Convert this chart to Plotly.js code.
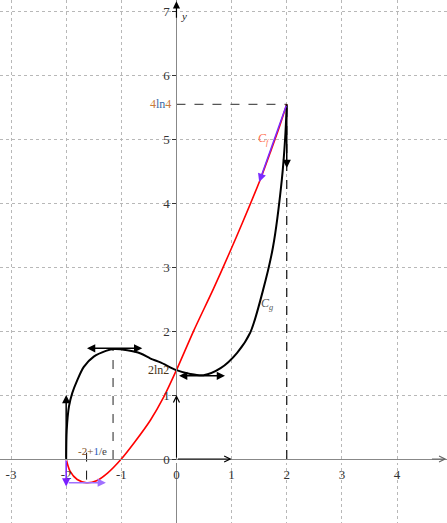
<!DOCTYPE html>
<html>
<head>
<meta charset="utf-8">
<script src="https://cdn.plot.ly/plotly-3.0.1.min.js"></script>
<style>html,body{margin:0;padding:0;background:#fff;}#chart{width:447px;height:523px;}</style>
</head>
<body>
<div id="chart"></div>
<script>
// ---- data ----
const xTicks = [-3, -2, -1, 0, 1, 2, 3, 4];
const yTicks = [-1, 0, 1, 2, 3, 4, 5, 6, 7];

// curve C_g (black)
const gX = [-2, -1.99, -1.95, -1.89, -1.8, -1.68, -1.5, -1.28, -1.13, -0.89, -0.65, -0.47, -0.29, 0, 0.25, 0.49, 0.8, 1.1, 1.34, 1.57, 1.75, 1.91, 1.97, 2];
const gY = [0, 0.45, 0.82, 1.03, 1.23, 1.44, 1.6, 1.69, 1.72, 1.70, 1.65, 1.57, 1.51, 1.39, 1.33, 1.31, 1.42, 1.66, 1.98, 2.64, 3.31, 4.36, 5.0, 5.545];

// curve C_f (red)
const fX = [-2, -1.93, -1.8, -1.63, -1.45, -1.25, -1.0, -0.77, -0.47, -0.23, 0, 0.31, 0.67, 0.95, 1.2, 1.52, 1.70, 1.85, 2];
const fY = [0, -0.19, -0.32, -0.37, -0.34, -0.22, 0, 0.25, 0.61, 0.97, 1.39, 2.0, 2.66, 3.2, 3.7, 4.37, 4.79, 5.15, 5.545];

// special points
const ptEnd = [2, 5.545];        // (2, 4ln4)
const ptMaxG = [-1.15, 1.72];     // max of C_g
const ptMinF = [-1.63, -0.37];    // min of C_f (-2+1/e)
const ptG0 = [0, 1.386];          // (0, 2ln2)

// tangent arrows [tailX, tailY, headX, headY, color, both]
const arrows = [
  [-2, 0, -2, 1, '#000', false],
  [-1.65, 1.73, -0.62, 1.73, '#000', true],
  [0.02, 1.30, 0.88, 1.30, '#000', true],
  [2, 5.545, 2, 4.55, '#000', false],
  [-2, 0, -2, -0.43, '#7a1fff', false],
  [-1.98, -0.37, -1.28, -0.37, '#a070ff', false],
  [2, 5.545, 1.5, 4.33, '#7a2bff', false]
];

const xRange = [-3.2, 4.906];
const yRange = [-1.0, 7.175];

const traces = [
  {x: [ptEnd[0], ptEnd[0]], y: [0, ptEnd[1]], mode: 'lines', line: {color: '#111', width: 1.2, dash: 'dash'}, hoverinfo: 'skip'},
  {x: [0, ptEnd[0]], y: [ptEnd[1], ptEnd[1]], mode: 'lines', line: {color: '#555', width: 1.3, dash: 'dash'}, hoverinfo: 'skip'},
  {x: [ptMaxG[0], ptMaxG[0]], y: [0, ptMaxG[1]], mode: 'lines', line: {color: '#222', width: 1, dash: 'dash'}, hoverinfo: 'skip'},
  {x: [ptMinF[0], ptMinF[0]], y: [0.1, ptMinF[1]], mode: 'lines', line: {color: '#111', width: 1, dash: 'dash'}, hoverinfo: 'skip'},
  {x: fX, y: fY, mode: 'lines', line: {color: '#ff0000', width: 1.6, shape: 'spline', smoothing: 0.8}, hoverinfo: 'skip'},
  {x: gX, y: gY, mode: 'lines', line: {color: '#000', width: 2, shape: 'spline', smoothing: 0.8}, hoverinfo: 'skip'}
];

const ann = [];
arrows.forEach(a => {
  ann.push({x: a[2], y: a[3], ax: a[0], ay: a[1], xref: 'x', yref: 'y', axref: 'x', ayref: 'y',
    text: '', showarrow: true, arrowhead: 2, arrowsize: 1.1, arrowwidth: 1.5, arrowcolor: a[4],
    arrowside: a[5] ? 'end+start' : 'end', startarrowhead: 2, startarrowsize: 1.1, standoff: 0, startstandoff: 0});
});
ann.push({x: 1, y: 0, ax: 0, ay: 0, xref: 'x', yref: 'y', axref: 'x', ayref: 'y', text: '', showarrow: true,
  arrowhead: 5, arrowsize: 1.2, arrowwidth: 1, arrowcolor: '#000'});
ann.push({x: 0, y: 1, ax: 0, ay: 0, xref: 'x', yref: 'y', axref: 'x', ayref: 'y', text: '', showarrow: true,
  arrowhead: 5, arrowsize: 1.2, arrowwidth: 1, arrowcolor: '#000'});
ann.push({x: 0, y: yRange[1] - 0.02, ax: 0, ay: yRange[1] - 0.3, xref: 'x', yref: 'y', axref: 'x', ayref: 'y', text: '', showarrow: true,
  arrowhead: 2, arrowsize: 1.2, arrowwidth: 1.2, arrowcolor: '#000'});
ann.push({x: xRange[1] - 0.01, y: 0, ax: xRange[1] - 0.3, ay: 0, xref: 'x', yref: 'y', axref: 'x', ayref: 'y', text: '', showarrow: true,
  arrowhead: 5, arrowsize: 1.2, arrowwidth: 1, arrowcolor: '#666'});

const SERIF = '"Liberation Serif", "Times New Roman", "DejaVu Serif", serif';
const lf = {family: SERIF, size: 12};
ann.push({x: 0, y: ptEnd[1], xref: 'x', yref: 'y', xanchor: 'right', yanchor: 'middle', xshift: -3, showarrow: false,
  text: '<span style="color:#c87a3a">4</span><span style="color:#3a6aa8">ln</span><span style="color:#c87a3a">4</span>', font: lf});
ann.push({x: 0, y: ptG0[1], xref: 'x', yref: 'y', xanchor: 'right', yanchor: 'middle', xshift: -5, showarrow: false,
  text: '2ln2', font: Object.assign({}, lf, {color: '#4a3418'})});
ann.push({x: ptMinF[0] + 0.1, y: 0.13, xref: 'x', yref: 'y', xanchor: 'center', yanchor: 'middle', showarrow: false,
  text: '<span style="color:#7a4a20">-2+</span><span style="color:#2a5cc0">1</span><span style="color:#444">/e</span>', font: Object.assign({}, lf, {size: 11})});
ann.push({x: 1.58, y: 5.0, xref: 'x', yref: 'y', showarrow: false,
  text: '<i>C<sub>f</sub></i>', font: {family: SERIF, size: 12, color: '#ff7050'}});
ann.push({x: 1.65, y: 2.42, xref: 'x', yref: 'y', showarrow: false,
  text: '<i>C<sub>g</sub></i>', font: {family: SERIF, size: 12, color: '#555'}});
ann.push({x: 0.05, y: 6.92, xref: 'x', yref: 'y', xanchor: 'left', showarrow: false,
  text: '<i>y</i>', font: {family: SERIF, size: 11, color: '#222'}});

const tf = {family: SERIF, size: 13, color: '#333'};
const layout = {
  width: 447, height: 523,
  margin: {l: 0, r: 0, t: 0, b: 0},
  paper_bgcolor: '#fff', plot_bgcolor: '#fff',
  showlegend: false,
  font: {family: SERIF},
  xaxis: {range: xRange, tickvals: xTicks, ticktext: xTicks.map(String), showgrid: true, gridcolor: '#b8b8b8', griddash: 'dot', gridwidth: 1,
    zeroline: false, showline: true, linecolor: '#888', linewidth: 1, anchor: 'free',
    position: (0 - yRange[0]) / (yRange[1] - yRange[0]), ticks: 'outside', ticklen: 3, tickcolor: '#fff', tickfont: tf, fixedrange: true},
  yaxis: {range: yRange, tickvals: yTicks, ticktext: yTicks.map(String), showgrid: true, gridcolor: '#b8b8b8', griddash: 'dot', gridwidth: 1,
    zeroline: false, showline: true, linecolor: '#888', linewidth: 1, anchor: 'free',
    position: (0 - xRange[0]) / (xRange[1] - xRange[0]), ticks: 'outside', ticklen: 4, tickcolor: '#333', tickfont: tf, fixedrange: true},
  annotations: ann
};
Plotly.newPlot('chart', traces, layout, {displayModeBar: false, staticPlot: true});
</script>
</body>
</html>
